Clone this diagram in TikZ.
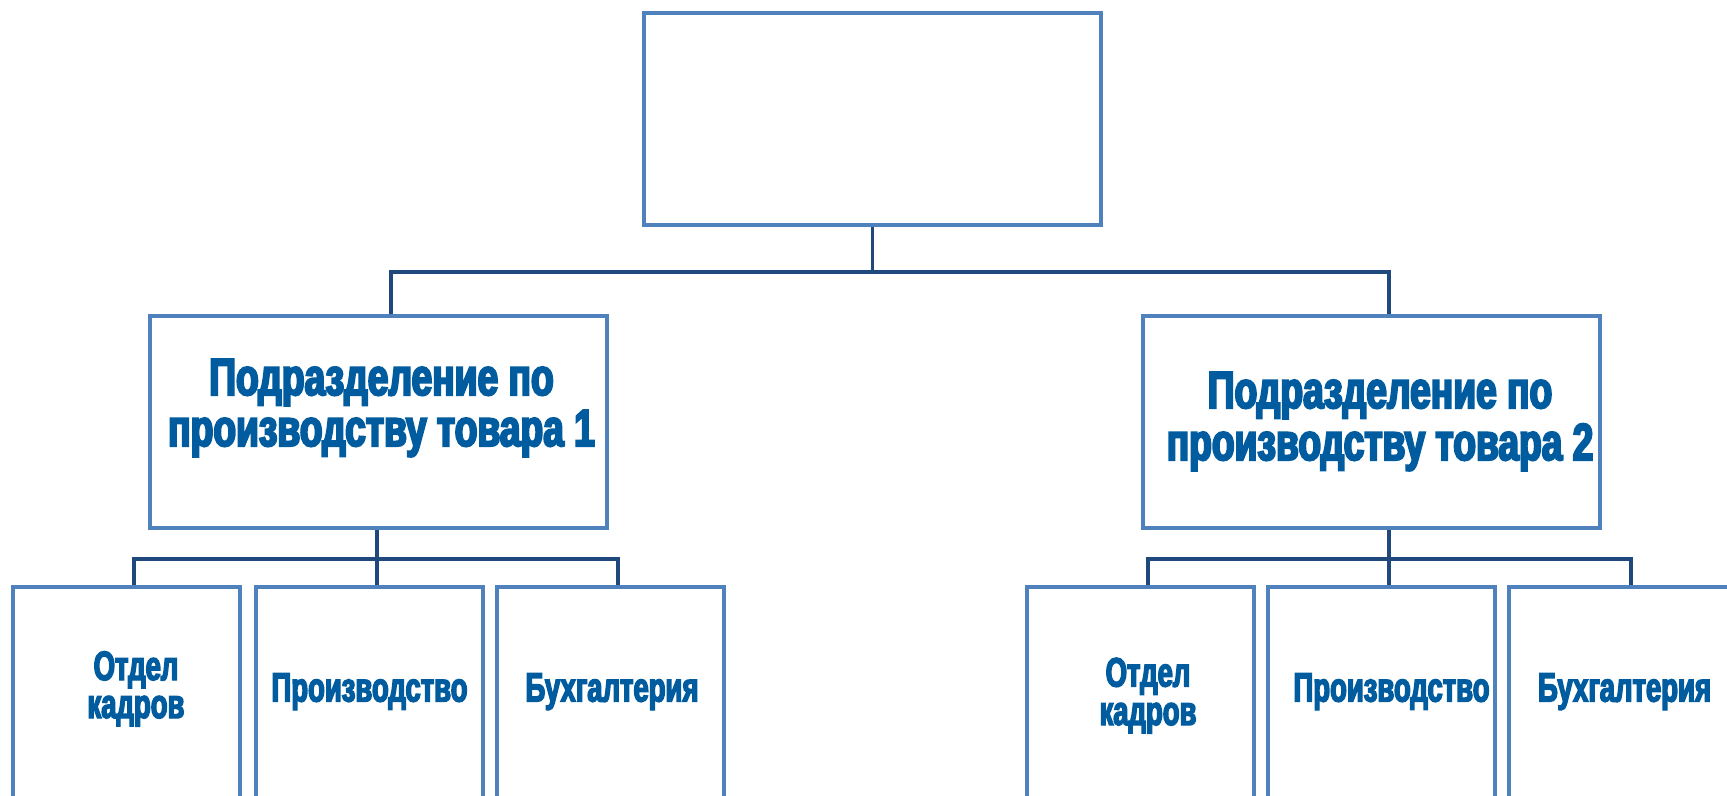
\documentclass[tikz,border=0pt]{standalone}
\usepackage{fontspec}
\newfontfamily\lblbig{Liberation Sans}[FakeStretch=0.715, FakeBold=4]
\newfontfamily\lblsmall{Liberation Sans}[FakeStretch=0.67, FakeBold=3.5]
\definecolor{boxblue}{HTML}{4F81BD}
\definecolor{linenavy}{HTML}{1F497D}
\definecolor{txtblue}{HTML}{005C9E}
\tikzset{
  orgbox/.style={draw=boxblue, line width=2pt, fill=white, minimum width=228.5pt, minimum height=106pt, inner sep=0pt},
  leafbox/.style={draw=boxblue, line width=2pt, fill=white, minimum width=113.5pt, minimum height=136.5pt, inner sep=0pt},
  conn/.style={draw=linenavy, line width=1.85pt},
  bigtxt/.style={text=txtblue, font=\lblbig\bfseries\fontsize{26}{26}\selectfont, align=center, inner sep=0pt, anchor=base},
  smalltxt/.style={text=txtblue, font=\lblsmall\bfseries\fontsize{20.5}{20.5}\selectfont, align=center, inner sep=0pt, anchor=base}
}
\begin{document}
\begin{tikzpicture}[x=0.5pt,y=-0.5pt]
\clip (0,0) rectangle (1727,796);
\fill[white] (0,0) rectangle (1727,796);
% boxes
\node[orgbox] (top) at (872.5,119) {};
\node[orgbox] (mid1) at (378.5,422) {};
\node[orgbox] (mid2) at (1371.5,422) {};
\node[leafbox] (b1) at (126.5,723.5) {};
\node[leafbox] (b2) at (369,723.5) {};
\node[leafbox] (b3) at (610.5,723.5) {};
\node[leafbox] (b4) at (1140,723.5) {};
\node[leafbox] (b5) at (1381,723.5) {};
\node[leafbox] (b6) at (1622.5,723.5) {};
% connectors
\draw[conn] (top.south) -- ++(0,45) coordinate (tj);
\draw[conn] ([xshift=6.25pt]mid1.north) |- (tj) -| ([xshift=8.75pt]mid2.north);
\draw[conn] ([xshift=-0.75pt]mid1.south) -- ++(0,29) coordinate (m1j);
\draw[conn] ([xshift=3.75pt]b1.north) |- (m1j) -| ([xshift=3.75pt]b3.north);
\draw[conn] ([xshift=4pt]b2.north) -- (m1j);
\draw[conn] ([xshift=8.75pt]mid2.south) -- ++(0,29) coordinate (m2j);
\draw[conn] ([xshift=4pt]b4.north) |- (m2j) -| ([xshift=4.25pt]b6.north);
\draw[conn] ([xshift=4pt]b5.north) -- (m2j);
% texts
\node[bigtxt] (t1a) at (381.5,395) {Подразделение по};
\node[bigtxt] (t1b) at (381.5,446) {производству товара 1};
\node[bigtxt] (t2a) at (1380,408) {Подразделение по};
\node[bigtxt] (t2b) at (1380,460) {производству товара 2};
\node[smalltxt] (l1a) at (136,680) {Отдел};
\node[smalltxt] (l1b) at (136,718) {кадров};
\node[smalltxt] (l2) at (369.5,701.5) {Производство};
\node[smalltxt] (l3) at (612,701.5) {Бухгалтерия};
\node[smalltxt] (l4a) at (1148,686.5) {Отдел};
\node[smalltxt] (l4b) at (1148,725) {кадров};
\node[smalltxt] (l5) at (1391.5,701.5) {Производство};
\node[smalltxt] (l6) at (1624.5,701.5) {Бухгалтерия};
\end{tikzpicture}
\end{document}
